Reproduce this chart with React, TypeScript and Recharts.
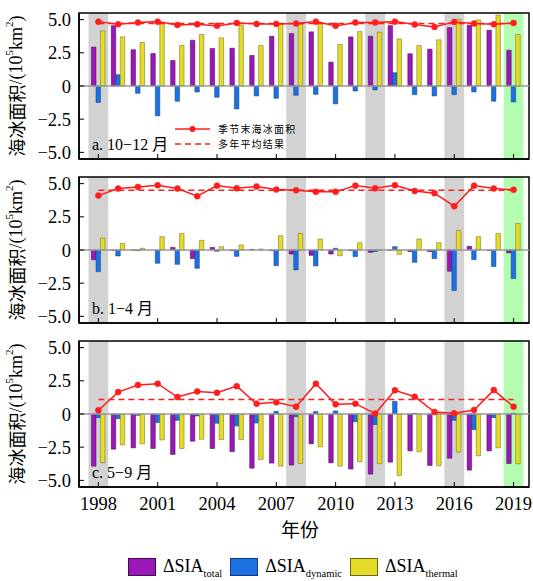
import React from "react";
import {
  ComposedChart,
  Bar,
  Line,
  XAxis,
  YAxis,
  ReferenceArea,
  ReferenceLine,
  Legend,
} from "recharts";

// Sea-ice area anomalies (10^5 km^2), three seasons, 1998-2019.
const years = [
  1998, 1999, 2000, 2001, 2002, 2003, 2004, 2005, 2006, 2007, 2008,
  2009, 2010, 2011, 2012, 2013, 2014, 2015, 2016, 2017, 2018, 2019,
];
const yearTicks = [1998, 2001, 2004, 2007, 2010, 2013, 2016, 2019];
const valueTicks = [-5, -2.5, 0, 2.5, 5];
const greyYears = [1998, 2008, 2012, 2016];
const greenYears = [2019];

// a. 10-12 月
const octTotal = [2.93, 4.55, 2.73, 2.45, 1.93, 3.45, 2.83, 2.85, 2.3, 3.75, 3.95, 4.08, 1.8, 3.7, 3.75, 4.55, 2.43, 2.78, 4.4, 4.58, 4.2, 2.7];
const octDynamic = [-1.25, 0.85, -0.55, -2.25, -1.15, -0.45, -0.85, -1.73, -0.75, -0.93, -0.7, -0.63, -1.35, -0.38, -0.3, 1.0, -0.65, -0.75, -0.65, -0.45, -1.15, -1.2];
const octThermal = [4.15, 3.7, 3.28, 4.7, 3.05, 3.88, 3.63, 4.58, 3.05, 4.68, 4.63, 4.7, 3.13, 4.1, 4.05, 3.55, 3.05, 3.48, 5.03, 4.98, 5.35, 3.88];
const octArea = [4.85, 4.65, 4.78, 4.85, 4.6, 4.65, 4.53, 4.75, 4.68, 4.68, 4.7, 4.85, 4.53, 4.78, 4.78, 4.85, 4.63, 4.45, 4.83, 4.7, 4.65, 4.75];
const octMean = 4.7;

// b. 1-4 月
const janTotal = [-0.73, -0.03, 0.02, 0, 0.2, -0.65, 0.2, -0.05, 0.05, -0.05, -0.3, -0.4, -0.3, -0.05, -0.18, -0.03, -0.12, -0.12, -1.6, 0.28, -0.03, -0.22];
const janDynamic = [-1.63, -0.45, -0.05, -1.0, -1.08, -1.38, -0.1, -0.48, 0, -1.18, -1.5, -1.2, 0.13, -0.5, -0.12, 0.25, -0.93, -0.65, -3.05, -0.73, -1.25, -2.15];
const janThermal = [0.9, 0.5, 0.13, 1.0, 1.25, 0.73, 0.25, 0.38, 0.08, 1.08, 1.25, 0.83, -0.43, 0.55, -0.03, -0.33, 0.83, 0.55, 1.48, 1.0, 1.25, 2.0];
const janArea = [4.1, 4.63, 4.75, 4.88, 4.63, 4.05, 4.85, 4.65, 4.78, 4.55, 4.5, 4.38, 4.38, 4.85, 4.65, 4.88, 4.45, 4.28, 3.3, 4.85, 4.63, 4.53];
const janMean = 4.5;

// c. 5-9 月
const mayTotal = [-3.93, -2.65, -2.55, -2.6, -3.05, -2.05, -2.6, -2.83, -4.08, -3.7, -3.85, -2.25, -3.68, -4.15, -4.53, -3.63, -2.78, -3.88, -3.33, -4.23, -2.78, -3.73];
const mayDynamic = [-0.28, -0.35, -0.1, -0.65, -0.48, -0.15, -0.7, -0.9, -0.68, 0.2, -0.2, 0.18, 0.23, -0.58, -0.8, 0.95, 0.05, 0, -0.48, -1.18, -0.28, 0.05];
const mayThermal = [-3.68, -2.33, -2.25, -1.95, -2.6, -1.9, -1.93, -1.93, -3.43, -3.93, -3.73, -2.48, -3.93, -3.6, -3.75, -4.63, -2.85, -3.9, -2.88, -3.15, -2.55, -3.75];
const mayArea = [0.28, 1.65, 2.18, 2.28, 1.28, 1.7, 1.6, 2.1, 0.78, 0.88, 0.55, 2.28, 0.73, 0.78, 0.03, 1.78, 1.3, 0.15, 0.05, 0.3, 1.8, 0.55];
const mayMean = 1.1;

const SERIF = '"Liberation Serif", "Times New Roman", serif';
const CJK = '"Noto Sans CJK SC", "Noto Sans CJK JP", sans-serif';

const PURPLE = "#9a17b8";
const BLUE = "#1c70e0";
const YELLOW = "#e4dc27";
const RED = "#ff1c1c";

const W = 533;
const PLOT_H = 146;

function buildRows(total: number[], dynamic: number[], thermal: number[], area: number[], mean: number) {
  return years.map((year, i) => ({
    year,
    total: total[i],
    dynamic: dynamic[i],
    thermal: thermal[i],
    area: area[i],
    mean,
  }));
}

function fmtValue(v: number) {
  if (v === 0) return "0";
  return v.toFixed(1).replace("-", "\u2212");
}

function YTitle(props: any) {
  const vb = props.viewBox;
  const cy = vb.y + vb.height / 2;
  return (
    <text
      transform={`translate(16, ${cy}) rotate(-90)`}
      textAnchor="middle"
      dominantBaseline="central"
      fontSize={18}
      fill="#000"
      fontFamily={SERIF}
    >
      <tspan fontFamily={CJK}>海冰面积</tspan>
      <tspan>/(10</tspan>
      <tspan fontSize={11} dy={-7}>5</tspan>
      <tspan dy={7}>km</tspan>
      <tspan fontSize={11} dy={-7}>2</tspan>
      <tspan dy={7}>)</tspan>
    </text>
  );
}

// panel tag drawn as the frame's label so it sits above the shaded bands
function PanelTag({ viewBox, tag }: any) {
  return (
    <text x={viewBox.x + 13} y={viewBox.y + viewBox.height - 9} fontSize={16} fill="#000" fontFamily={SERIF}>
      {tag}
      <tspan fontFamily={CJK} dx={4}>月</tspan>
    </text>
  );
}

function LineKey() {
  const row = { display: "flex", alignItems: "center", height: 14.5 } as const;
  const txt = { fontFamily: CJK, fontSize: 10, letterSpacing: 1.2, color: "#000", marginLeft: 8, lineHeight: "12px" };
  return (
    <div>
      <div style={row}>
        <svg width={35} height={10}>
          <line x1={0} y1={5} x2={35} y2={5} stroke={RED} strokeWidth={1.6} />
          <circle cx={17.5} cy={5} r={3} fill={RED} />
        </svg>
        <span style={txt}>季节末海冰面积</span>
      </div>
      <div style={row}>
        <svg width={35} height={10}>
          <line x1={0} y1={5} x2={35} y2={5} stroke={RED} strokeWidth={1.4} strokeDasharray="6 4" />
        </svg>
        <span style={txt}>多年平均结果</span>
      </div>
    </div>
  );
}

function BarKey() {
  const items = [
    { color: PURPLE, edge: "#3d0a4a", sub: "total" },
    { color: BLUE, edge: "#0d3d80", sub: "dynamic" },
    { color: YELLOW, edge: "#6a6612", sub: "thermal" },
  ];
  return (
    <div style={{ display: "flex", alignItems: "center" }}>
      {items.map((it) => (
        <div key={it.sub} style={{ display: "flex", alignItems: "center", marginRight: 8 }}>
          <div style={{ width: 26, height: 16, background: it.color, border: `1px solid ${it.edge}` }} />
          <span style={{ fontFamily: SERIF, fontSize: 18, marginLeft: 7, color: "#000", whiteSpace: "nowrap" }}>
            ΔSIA<sub style={{ fontSize: 10.5 }}>{it.sub}</sub>
          </span>
        </div>
      ))}
    </div>
  );
}

type PanelProps = {
  rows: ReturnType<typeof buildRows>;
  tag: string;
  top: number;
  bottomAxis?: boolean;
  lineKey?: boolean;
};

function Panel({ rows, tag, top, bottomAxis, lineKey }: PanelProps) {
  const xHeight = bottomAxis ? 94 : 11;
  const height = 13 + PLOT_H + xHeight;
  return (
    <div style={{ position: "absolute", left: 0, top }}>
      <ComposedChart
        width={W}
        height={height}
        data={rows}
        margin={{ top: 13, right: 4, bottom: 0, left: 0 }}
        barGap={0}
        barSize={4.5}
      >
        {greyYears.map((y) => (
          <ReferenceArea key={y} x1={y - 0.5} x2={y + 0.5} fill="#d2d2d2" fillOpacity={1} stroke="none" ifOverflow="hidden" />
        ))}
        {greenYears.map((y) => (
          <ReferenceArea key={y} x1={y - 0.5} x2={y + 0.5} fill="#b4fcb0" fillOpacity={1} stroke="none" ifOverflow="hidden" />
        ))}
        <XAxis
          dataKey="year"
          type="number"
          domain={[1997.02, 2019.78]}
          allowDataOverflow
          ticks={yearTicks}
          interval={0}
          height={xHeight}
          tickSize={-5}
          tickMargin={15}
          axisLine={{ stroke: "#000", strokeWidth: 1.5 }}
          tickLine={{ stroke: "#000", strokeWidth: 1 }}
          tick={{ fontSize: 18.5, fontFamily: SERIF, fill: "#000" }}
          tickFormatter={(v) => (bottomAxis ? String(v) : "")}
          label={
            bottomAxis
              ? (p: any) => (
                  <text x={300} y={p.viewBox.y + 41} textAnchor="middle" dominantBaseline="central" fontFamily={CJK} fontSize={19} fill="#000">
                    年份
                  </text>
                )
              : undefined
          }
        />
        <YAxis
          type="number"
          domain={[-5.5, 5.5]}
          allowDataOverflow
          ticks={valueTicks}
          interval={0}
          width={79}
          tickSize={-5}
          tickMargin={13}
          axisLine={{ stroke: "#000", strokeWidth: 1.5 }}
          tickLine={{ stroke: "#000", strokeWidth: 1 }}
          tick={{ fontSize: 18.5, fontFamily: SERIF, fill: "#000" }}
          tickFormatter={fmtValue}
          label={<YTitle />}
        />
        <ReferenceLine y={0} stroke="#9a9a9a" strokeWidth={1.5} />
        <Bar dataKey="total" fill={PURPLE} stroke="#3d0a4a" strokeWidth={0.5} isAnimationActive={false} />
        <Bar dataKey="dynamic" fill={BLUE} stroke="#0d3d80" strokeWidth={0.5} isAnimationActive={false} />
        <Bar dataKey="thermal" fill={YELLOW} stroke="#6a6612" strokeWidth={0.5} isAnimationActive={false} />
        <Line dataKey="mean" stroke={RED} strokeWidth={1.5} strokeDasharray="6 4" dot={false} activeDot={false} isAnimationActive={false} />
        <Line dataKey="area" stroke={RED} strokeWidth={1.5} dot={{ r: 3, fill: RED, stroke: RED, strokeWidth: 0.5 }} activeDot={false} isAnimationActive={false} />
        <ReferenceArea
          y1={-5.5}
          y2={5.5}
          fill="none"
          stroke="#000"
          strokeWidth={1.5}
          ifOverflow="visible"
          label={(p: any) => <PanelTag viewBox={p.viewBox} tag={tag} />}
        />
        {lineKey && (
          <Legend
            layout="vertical"
            align="center"
            verticalAlign="middle"
            content={() => <LineKey />}
            wrapperStyle={{ position: "absolute", left: 175, top: 122, width: "auto" }}
          />
        )}
        {bottomAxis && (
          <Legend
            layout="vertical"
            align="center"
            verticalAlign="middle"
            content={() => <BarKey />}
            wrapperStyle={{ position: "absolute", left: 128, top: 228, width: "auto" }}
          />
        )}
      </ComposedChart>
    </div>
  );
}

export default function App() {
  const octRows = buildRows(octTotal, octDynamic, octThermal, octArea, octMean);
  const janRows = buildRows(janTotal, janDynamic, janThermal, janArea, janMean);
  const mayRows = buildRows(mayTotal, mayDynamic, mayThermal, mayArea, mayMean);
  return (
    <div style={{ position: "absolute", left: 0, top: 0, width: W, height: 581, background: "#fff" }}>
      <Panel rows={octRows} tag={"a. 10\u221212"} top={0} lineKey />
      <Panel rows={janRows} tag={"b. 1\u22124"} top={164} />
      <Panel rows={mayRows} tag={"c. 5\u22129"} top={328} bottomAxis />
    </div>
  );
}
